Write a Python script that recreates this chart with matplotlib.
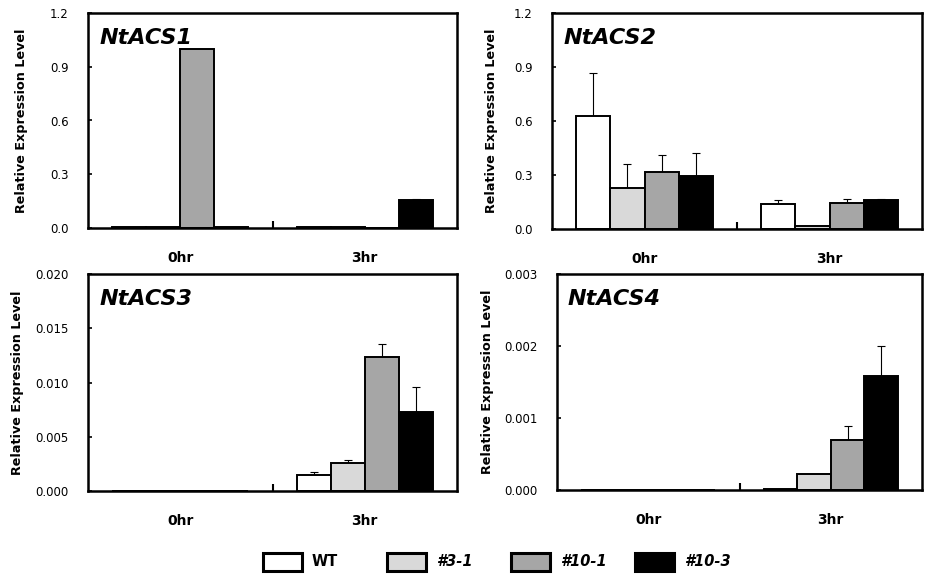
import numpy as np
import matplotlib
matplotlib.use("Agg")
import matplotlib.pyplot as plt
from matplotlib.patches import Rectangle

# data
groups = ["0hr", "3hr"]
lines = ["WT", "#3-1", "#10-1", "#10-3"]
colors = ["#ffffff", "#d9d9d9", "#a6a6a6", "#000000"]

acs1_mean = [[0.004, 0.004, 1.0, 0.004], [0.004, 0.004, 0.0, 0.155]]
acs1_err = [[0.0, 0.0, 0.0, 0.0], [0.0, 0.0, 0.0, 0.005]]
acs2_mean = [[0.627, 0.227, 0.316, 0.296], [0.139, 0.018, 0.144, 0.163]]
acs2_err = [[0.242, 0.135, 0.093, 0.124], [0.020, 0.0, 0.021, 0.002]]
acs3_mean = [[0.00004, 0.00004, 0.00004, 0.00004], [0.00148, 0.00258, 0.01237, 0.00732]]
acs3_err = [[0.0, 0.0, 0.0, 0.0], [0.00024, 0.00031, 0.00117, 0.00231]]
acs4_mean = [[0.000006, 0.000006, 0.000006, 0.000006], [0.00001, 0.000222, 0.000692, 0.00159]]
acs4_err = [[0.0, 0.0, 0.0, 0.0], [0.0, 0.0, 0.000203, 0.00041]]

panels = [
    ("NtACS1", acs1_mean, acs1_err, 1.2, [0.0, 0.3, 0.6, 0.9, 1.2], "{:.1f}"),
    ("NtACS2", acs2_mean, acs2_err, 1.2, [0.0, 0.3, 0.6, 0.9, 1.2], "{:.1f}"),
    ("NtACS3", acs3_mean, acs3_err, 0.020, [0.0, 0.005, 0.010, 0.015, 0.020], "{:.3f}"),
    ("NtACS4", acs4_mean, acs4_err, 0.003, [0.0, 0.001, 0.002, 0.003], "{:.3f}"),
]

# axes boxes in pixels: left, top, right, bottom, ylabel anchor x
W, H = 947, 576
boxes = [(88, 13, 457, 228, 28), (552, 13, 922, 229, 498),
         (88, 274, 457, 491, 24), (557, 274, 922, 490, 494)]

fig = plt.figure(figsize=(W / 100, H / 100), dpi=100)
bw = 0.184
x = np.arange(len(groups))

for (name, mean, err, ymax, ticks, fmt), (l, t, r, b, lx) in zip(panels, boxes):
    ax = fig.add_axes([l / W, 1 - b / H, (r - l) / W, (b - t) / H])
    mean = np.array(mean)
    err = np.array(err)
    for j in range(len(lines)):
        xs = x + (j - 1.5) * bw
        ax.bar(xs, mean[:, j], bw, color=colors[j], edgecolor="black", linewidth=1.4, zorder=2)
        for xi, m, e in zip(xs, mean[:, j], err[:, j]):
            if e > 0:
                ax.errorbar(xi, m, yerr=[[0], [e]], fmt="none", ecolor="black",
                            elinewidth=0.8, capsize=3, capthick=0.8, zorder=1)
    ax.set_xlim(-0.5, 1.5)
    ax.set_ylim(0, ymax)
    ax.set_yticks(ticks)
    ax.set_yticklabels([fmt.format(v) for v in ticks], fontsize=8.5)
    ax.set_xticks([0.5])
    ax.set_xticklabels([""])
    ax.tick_params(axis="x", direction="in", length=5, width=1.5)
    ax.tick_params(axis="y", direction="in", length=3, width=1.2, pad=14)
    for s in ax.spines.values():
        s.set_linewidth(1.8)
    for xi, g in zip(x, groups):
        ax.text(xi, -0.14, g, transform=ax.get_xaxis_transform(), ha="center", va="center",
                fontsize=10, fontweight="bold")
    ax.set_ylabel("Relative Expression Level", fontsize=9.2, fontweight="bold")
    ax.yaxis.set_label_coords((lx - l) / (r - l), 0.5)
    ax.text(0.03, 0.93, name, transform=ax.transAxes, ha="left", va="top",
            fontsize=16, fontweight="bold", style="italic")

# legend row
leg_x = [263, 387, 511, 635]
for lx, lab, c in zip(leg_x, lines, colors):
    fig.patches.append(Rectangle((lx / W, 1 - 571 / H), 39 / W, 18 / H, transform=fig.transFigure,
                                 facecolor=c, edgecolor="black", linewidth=2.2))
    fig.text((lx + 49) / W, 1 - 562 / H, lab, ha="left", va="center", fontsize=10.5,
             fontweight="bold", style="normal" if lab == "WT" else "italic")

fig.savefig("out.png", dpi=100)
